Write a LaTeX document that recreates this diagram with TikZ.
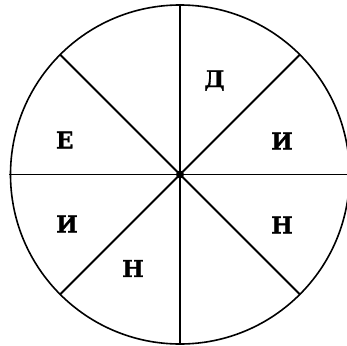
\documentclass[tikz,border=0pt]{standalone}
\usepackage{fontspec}
\setmainfont{DejaVu Serif}
\newfontfamily\lettfont[FakeBold=1.2]{DejaVu Serif Bold}
\begin{document}
\begin{tikzpicture}[x=1pt,y=-1pt,
  seg/.style={line width=1.8pt,black},
  letter/.style={font=\lettfont\fontsize{23}{23}\selectfont,inner sep=0pt}]
\useasboundingbox (0,0) rectangle (347,345);
\coordinate (c) at (180,174.5);
\draw[line width=1.6pt] (c) circle (169.5);
\coordinate (t) at (180,4);
\coordinate (b) at (180,345);
\coordinate (l) at (9,174.5);
\coordinate (r) at (347,174.5);
\coordinate (ul) at (60.1,54.6);
\coordinate (dr) at (299.9,294.4);
\coordinate (ur) at (299.9,54.6);
\coordinate (dl) at (60.1,294.4);
\draw[seg] (t) -- (b);
\draw[seg] (l) -- (r);
\draw[seg] (ul) -- (dr);
\draw[seg] (ur) -- (dl);
\fill (c) circle (4);
\node[letter] (d) at (214.5,80.5) {Д};
\node[letter] (i1) at (282,141) {И};
\node[letter] (e) at (64.7,140) {Е};
\node[letter] (i2) at (67,224) {И};
\node[letter] (n1) at (282,225) {Н};
\node[letter] (n2) at (133,268.5) {Н};
\end{tikzpicture}
\end{document}
